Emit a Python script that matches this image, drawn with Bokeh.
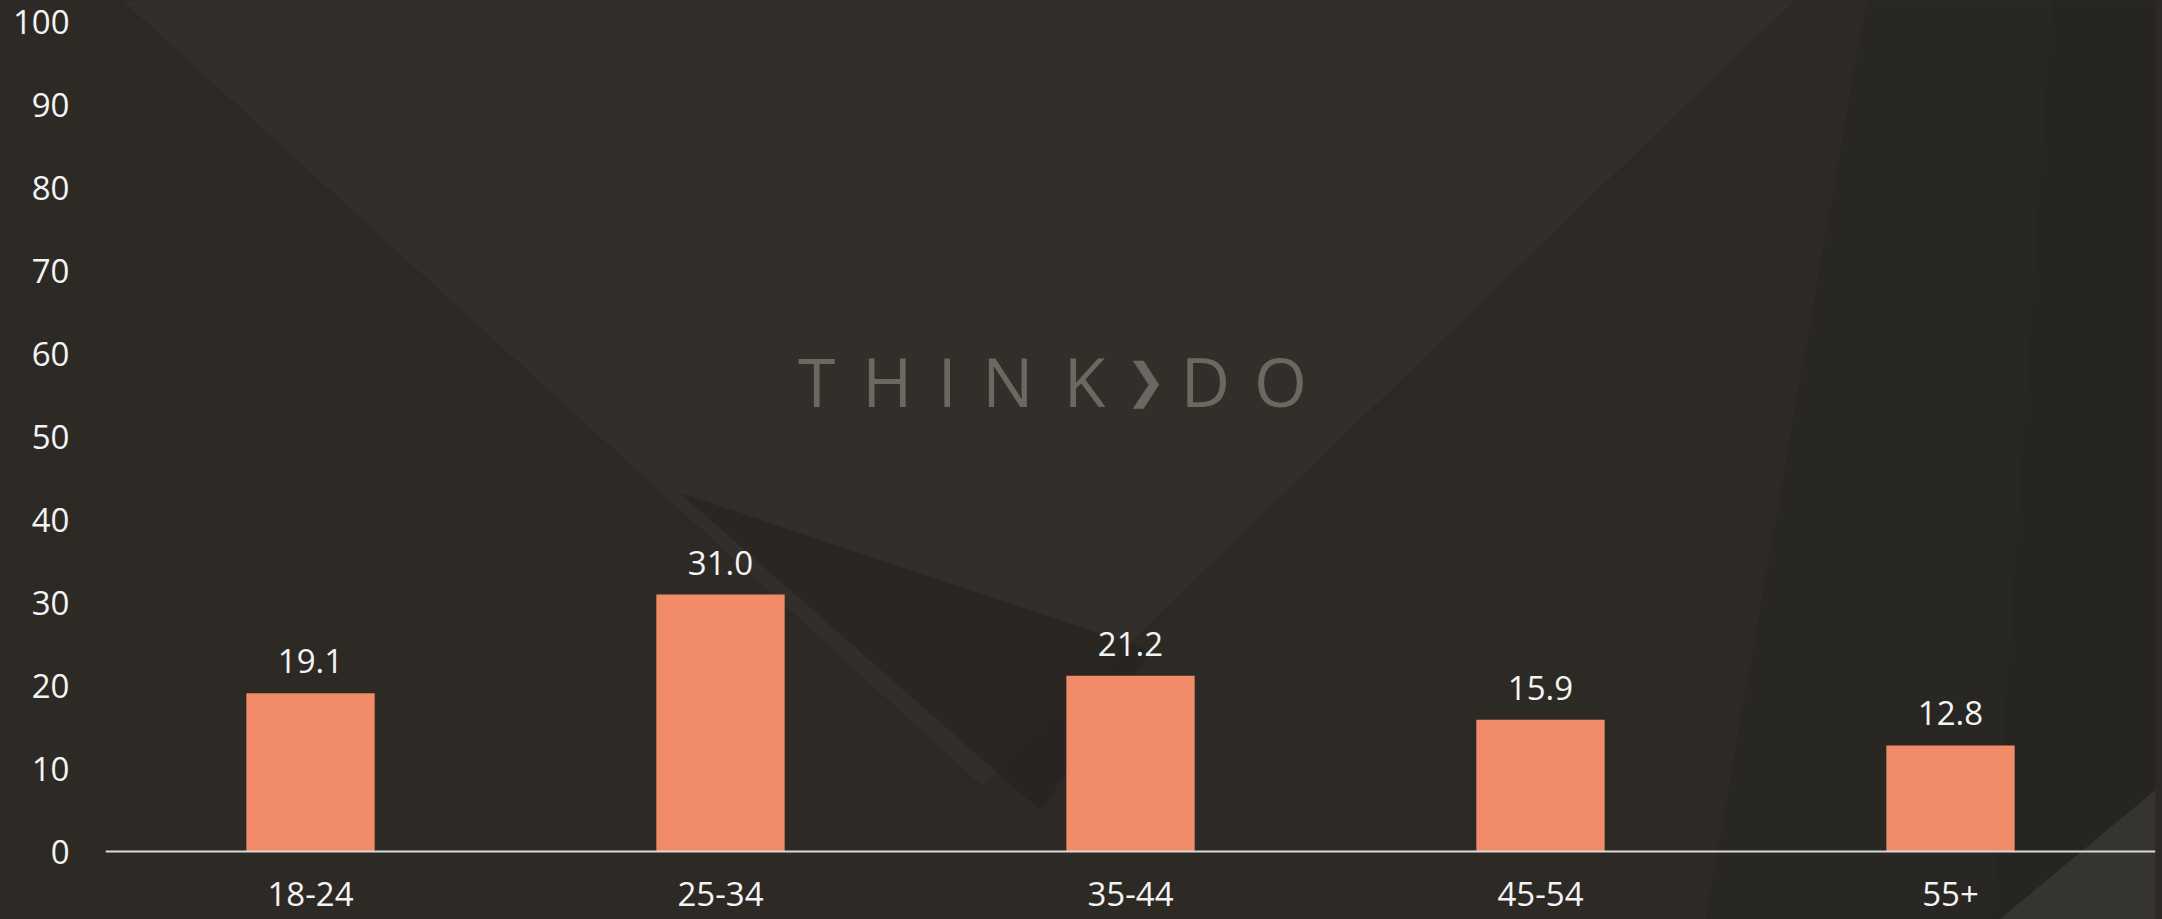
from bokeh.plotting import figure
from bokeh.models import Range1d, FixedTicker, Label, ColumnDataSource, LabelSet, PolyAnnotation
from bokeh.core.properties import value
from bokeh.embed import file_html
from bokeh.resources import INLINE

# ---- data ----
categories = ["18-24", "25-34", "35-44", "45-54", "55+"]
values = [19.1, 31.0, 21.2, 15.9, 12.8]
value_labels = ["19.1", "31.0", "21.2", "15.9", "12.8"]
y_ticks = [0, 10, 20, 30, 40, 50, 60, 70, 80, 90, 100]

# ---- watermark (decoration) ----
wm_letters = ["T", "H", "I", "N", "K", "\u276F", "D", "O"]
wm_x = [1.735, 1.907, 2.053, 2.201, 2.388, 2.537, 2.683, 2.866]
wm_y = 56.85

# ---- background decoration shapes (synthetic x, data y) ----
bg_light_xs = [0.012, 4.146, 2.137]
bg_light_ys = [104.0, 104.0, 7.96]
bg_dark_xs = [1.40, 2.55, 2.28]
bg_dark_ys = [43.3, 24.25, 4.95]
bg_corner_xs = [5.05, 4.60, 5.05]
bg_corner_ys = [9.5, -9.0, -9.0]
bg_right_xs = [4.3, 5.1, 5.1, 3.9]
bg_right_ys = [104.0, 104.0, -9.0, -9.0]
bg_right2_xs = [4.75, 5.1, 5.1, 4.6]
bg_right2_ys = [104.0, 104.0, -9.0, -9.0]

BG = "#2d2a26"
BAR = "#F28B68"
FONT = "Open Sans"
TXT = "#f4f4f4"

src = ColumnDataSource(dict(cat=categories, val=values, lab=value_labels))

p = figure(x_range=categories, y_range=Range1d(-8.2, 102.65), width=2162, height=919,
           output_backend="svg", toolbar_location=None,
           min_border_left=105, min_border_right=7, min_border_top=0, min_border_bottom=0)
p.styles = {"background-color": BG}
p.background_fill_color = BG
p.border_fill_color = BG
p.outline_line_color = None
p.grid.visible = False

p.add_layout(PolyAnnotation(xs=bg_right_xs, ys=bg_right_ys, fill_color="#201e1a",
                            fill_alpha=0.25, line_color=None, level="underlay"))
p.add_layout(PolyAnnotation(xs=bg_right2_xs, ys=bg_right2_ys, fill_color="#201e1a",
                            fill_alpha=0.2, line_color=None, level="underlay"))
p.add_layout(PolyAnnotation(xs=bg_light_xs, ys=bg_light_ys, fill_color="#3b3730",
                            fill_alpha=0.35, line_color=None, level="underlay"))
p.add_layout(PolyAnnotation(xs=bg_dark_xs, ys=bg_dark_ys, fill_color="#24221e",
                            fill_alpha=0.6, line_color=None, level="underlay"))
p.add_layout(PolyAnnotation(xs=bg_corner_xs, ys=bg_corner_ys, fill_color="#3a3731",
                            fill_alpha=0.85, line_color=None, level="underlay"))

for ch, x in zip(wm_letters, wm_x):
    is_chev = ch == "\u276F"
    p.add_layout(Label(x=x, y=wm_y, text=ch, text_align="center",
                       text_baseline="middle", text_color="#6d6762",
                       text_font="DejaVu Sans" if is_chev else FONT,
                       text_font_size="48px" if is_chev else "68px"))

p.vbar(x="cat", top="val", width=0.313, source=src, fill_color=BAR, line_color=None)

labels = LabelSet(x="cat", y="val", text="lab", source=src, text_align="center",
                  text_baseline="bottom", y_offset=20, text_color=TXT,
                  text_font=value(FONT), text_font_size="33px")
p.add_layout(labels)

p.yaxis.ticker = FixedTicker(ticks=y_ticks)
p.yaxis.axis_line_color = None
p.yaxis.major_tick_line_color = None
p.yaxis.minor_tick_line_color = None
p.yaxis.major_tick_out = 0
p.yaxis.major_label_standoff = 36
p.yaxis.major_label_text_color = TXT
p.yaxis.major_label_text_font = FONT
p.yaxis.major_label_text_font_size = "33px"

p.xaxis.fixed_location = 0
p.xaxis.axis_line_color = "#d9d9d9"
p.xaxis.axis_line_width = 2
p.xaxis.major_tick_line_color = None
p.xaxis.minor_tick_line_color = None
p.xaxis.major_tick_out = 0
p.xaxis.major_label_standoff = 30
p.xaxis.major_label_text_color = TXT
p.xaxis.major_label_text_font = FONT
p.xaxis.major_label_text_font_size = "33px"

open("out.html", "w").write(file_html(p, INLINE))
